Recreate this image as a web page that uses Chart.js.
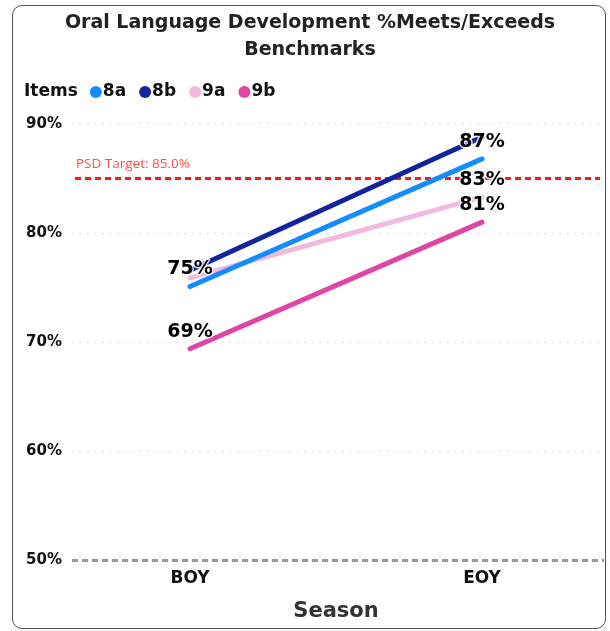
<!DOCTYPE html>
<html>
<head>
<meta charset="utf-8">
<script src="https://cdn.jsdelivr.net/npm/chart.js@4/dist/chart.umd.min.js"></script>
<style>
  html, body { margin: 0; padding: 0; background: #fff; }
  #card {
    position: absolute; left: 12px; top: 5px; width: 592px; height: 622px;
    border: 1.5px solid #555; border-radius: 10px;
  }
  #wrap { position: absolute; left: 0; top: 0; width: 610px; height: 631px; }
</style>
</head>
<body>
<div id="card"></div>
<div id="wrap"><canvas id="chart"></canvas></div>
<script>
// season categories (x positions 0 and 1 on a linear axis)
const seasons = ['BOY', 'EOY'];
const itemNames = ['8a', '8b', '9a', '9b'];
const itemColors = ['#118DFF', '#12239E', '#F2B8DF', '#E044A7'];

// % meets / exceeds for each item
const pct8a = [75.1, 86.8];
const pct8b = [76.6, 88.8];
const pct9a = [75.9, 83.3];
const pct9b = [69.4, 81.0];
const seriesValues = [pct8a, pct8b, pct9a, pct9b];

const targetValue = 85.0;
const yTicks = [50, 60, 70, 80, 90];

const FONT = '"DejaVu Sans"';

const datasets = itemNames.map((name, i) => ({
  label: name,
  data: seriesValues[i].map((v, j) => ({ x: j, y: v })),
  borderColor: itemColors[i],
  backgroundColor: itemColors[i],
  borderWidth: 5,
  borderCapStyle: 'round',
  pointRadius: 0,
  pointHoverRadius: 0,
  tension: 0
}));

// baseline, target line + 'Items' legend row
const extras = {
  id: 'extras',
  beforeDatasetsDraw(chart) {
    const { ctx, chartArea } = chart;
    const yScale = chart.scales.y;
    ctx.save();
    // 50% baseline
    const yb = yScale.getPixelForValue(yTicks[0]);
    ctx.strokeStyle = '#999';
    ctx.lineWidth = 3;
    ctx.setLineDash([6, 4]);
    ctx.beginPath();
    ctx.moveTo(chartArea.left, yb);
    ctx.lineTo(chartArea.right + 4, yb);
    ctx.stroke();
    // target
    const y = yScale.getPixelForValue(targetValue);
    ctx.strokeStyle = '#FF1A1A';
    ctx.beginPath();
    ctx.moveTo(chartArea.left + 3, y);
    ctx.lineTo(chartArea.right, y);
    ctx.stroke();
    ctx.setLineDash([]);
    ctx.fillStyle = '#FF4D4D';
    ctx.font = '13.5px "Open Sans"';
    ctx.textBaseline = 'bottom';
    ctx.textAlign = 'left';
    ctx.fillText('PSD Target: ' + targetValue.toFixed(1) + '%', chartArea.left + 4, y - 8);
    ctx.restore();
  },
  afterDraw(chart) {
    const { ctx } = chart;
    ctx.save();
    ctx.font = 'bold 17px ' + FONT;
    ctx.textBaseline = 'middle';
    ctx.fillStyle = '#111';
    let x = 24;
    const y = 92;
    ctx.fillText('Items', x, y);
    x += ctx.measureText('Items').width + 12;
    itemNames.forEach((name, i) => {
      ctx.fillStyle = itemColors[i];
      ctx.beginPath();
      ctx.arc(x + 6, y, 6, 0, Math.PI * 2);
      ctx.fill();
      x += 13;
      ctx.fillStyle = '#111';
      ctx.fillText(name, x, y);
      x += ctx.measureText(name).width + 13;
    });
    ctx.restore();
  }
};

// value labels above points, skipping ones that collide
const valueLabels = {
  id: 'valueLabels',
  afterDatasetsDraw(chart) {
    const { ctx } = chart;
    const boxes = [];
    ctx.save();
    ctx.font = 'bold 19px ' + FONT;
    ctx.textAlign = 'center';
    ctx.textBaseline = 'middle';
    ctx.lineJoin = 'round';
    chart.data.datasets.forEach((ds, di) => {
      const meta = chart.getDatasetMeta(di);
      meta.data.forEach((pt, pi) => {
        const txt = Math.round(ds.data[pi].y) + '%';
        const w = ctx.measureText(txt).width;
        const cx = pt.x, cy = pt.y - 17;
        const box = { l: cx - w / 2, r: cx + w / 2, t: cy - 11.5, b: cy + 11.5 };
        const hit = boxes.some(b => box.l < b.r && box.r > b.l && box.t < b.b && box.b > b.t);
        if (hit) return;
        boxes.push(box);
        ctx.strokeStyle = 'rgba(255,255,255,0.8)';
        ctx.lineWidth = 3;
        ctx.strokeText(txt, cx, cy);
        ctx.fillStyle = '#000';
        ctx.fillText(txt, cx, cy);
      });
    });
    ctx.restore();
  }
};

new Chart(document.getElementById('chart'), {
  type: 'line',
  data: { datasets: datasets },
  options: {
    responsive: true,
    maintainAspectRatio: false,
    animation: false,
    layout: { padding: { left: 20, right: 10, top: 0, bottom: 7 } },
    plugins: {
      legend: { display: false },
      tooltip: { enabled: false },
      title: {
        display: true,
        text: ['Oral Language Development %Meets/Exceeds', 'Benchmarks'],
        color: '#222',
        font: { family: FONT, size: 19, weight: 'bold', lineHeight: 1.42 },
        padding: { top: 10, bottom: 60 }
      }
    },
    scales: {
      x: {
        type: 'linear',
        min: -0.404,
        max: 1.404,
        afterBuildTicks: scale => { scale.ticks = seasons.map((s, i) => ({ value: i })); },
        ticks: {
          callback: v => seasons[v],
          color: '#111',
          font: { family: FONT, size: 17, weight: 'bold' },
          padding: 0,
          maxRotation: 0
        },
        grid: { display: false },
        border: { display: false },
        title: {
          display: true,
          text: 'Season',
          color: '#333',
          font: { family: FONT, size: 21, weight: 'bold' },
          padding: { top: 10, bottom: 0 }
        }
      },
      y: {
        min: 50,
        max: 90,
        afterBuildTicks: scale => { scale.ticks = yTicks.map(v => ({ value: v })); },
        afterFit: scale => { scale.width = 52; },
        ticks: {
          callback: v => v + '%',
          color: '#111',
          font: { family: FONT, size: 15, weight: 'bold' },
          padding: 10
        },
        grid: {
          color: ctx => ctx.tick && ctx.tick.value === 50 ? 'rgba(0,0,0,0)' : '#D0D0D0',
          lineWidth: 1,
          drawTicks: false
        },
        border: { display: false, dash: [1.5, 6] }
      }
    }
  },
  plugins: [extras, valueLabels]
});
</script>
</body>
</html>
